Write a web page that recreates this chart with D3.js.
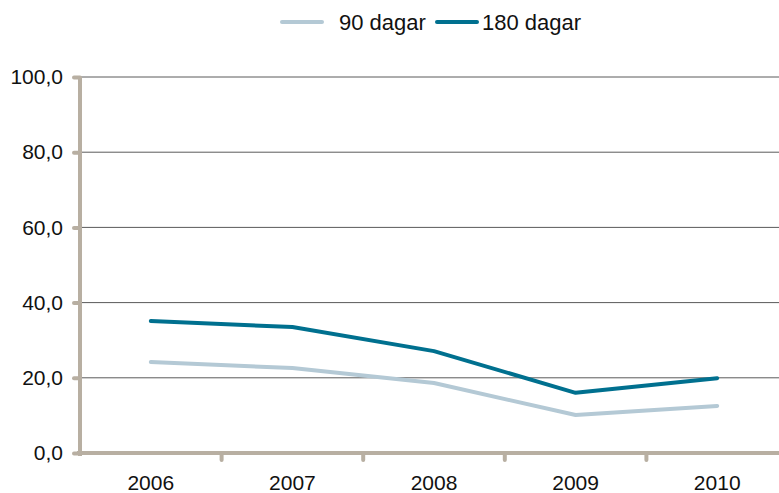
<!DOCTYPE html>
<html lang="en">
<head>
    <meta charset="UTF-8">
    <title>90 / 180 dagar</title>
    <script src="https://d3js.org/d3.v7.min.js"></script>
    <style>
        body { margin: 0; font-family: "Liberation Sans", Arial, sans-serif; background: #fff; }
        .tick text { font-size: 21px; fill: #111; }
        .legend text { font-size: 22px; fill: #111; }
    </style>
</head>
<body>
    <div id="chart"></div>
    <script>
        // Chart data
        const years = ["2006", "2007", "2008", "2009", "2010"];
        const days90 = [24.2, 22.6, 18.6, 10.1, 12.5];
        const days180 = [35.1, 33.5, 27.1, 16.0, 19.9];
        const yTicks = [0, 20, 40, 60, 80, 100];

        const W = 779, H = 493;
        const margin = { top: 77, right: -9, bottom: 40, left: 80 };

        const svg = d3.select("#chart").append("svg")
            .attr("width", W)
            .attr("height", H);

        const x = d3.scaleBand().domain(years).range([margin.left, W - margin.right]);
        const y = d3.scaleLinear().domain([0, 100]).range([H - margin.bottom, margin.top]);

        const axisColor = "#b8afa2";

        // gridlines
        svg.append("g").selectAll("line")
            .data(yTicks.slice(1))
            .enter().append("line")
            .attr("x1", margin.left).attr("x2", W)
            .attr("y1", d => y(d)).attr("y2", d => y(d))
            .attr("stroke", "#5a5a5a").attr("stroke-width", 1);

        // y axis
        const yAxis = svg.append("g")
            .attr("transform", `translate(${margin.left},0)`)
            .call(d3.axisLeft(y).tickValues(yTicks).tickSize(6).tickPadding(11)
                .tickFormat(d => d3.format(".1f")(d).replace(".", ",")));
        yAxis.select(".domain").attr("stroke", axisColor).attr("stroke-width", 4)
            .attr("d", `M0,${y(100)}V${y(0) + 3}`);
        yAxis.selectAll(".tick line").attr("stroke", axisColor).attr("stroke-width", 4).attr("stroke-linecap", "round");

        // x axis
        const xAxis = svg.append("g")
            .attr("transform", `translate(0,${y(0)})`)
            .call(d3.axisBottom(x).tickSize(0).tickPadding(30));
        xAxis.select(".domain").attr("stroke", axisColor).attr("stroke-width", 4)
            .attr("d", `M${margin.left - 3},0H${W}`);
        xAxis.selectAll(".tick text").attr("dy", "0.35em");

        // category boundary ticks
        svg.append("g").selectAll("line")
            .data(years.slice(1))
            .enter().append("line")
            .attr("x1", d => x(d)).attr("x2", d => x(d))
            .attr("y1", y(0)).attr("y2", y(0) + 7)
            .attr("stroke", axisColor).attr("stroke-width", 4).attr("stroke-linecap", "round");

        const line = d3.line()
            .x((d, i) => x(years[i]) + x.bandwidth() / 2)
            .y(d => y(d));

        const series = [
            { name: "90 dagar", values: days90, color: "#b4c9d5" },
            { name: "180 dagar", values: days180, color: "#00708f" }
        ];

        svg.append("g").selectAll("path")
            .data(series)
            .enter().append("path")
            .attr("d", d => line(d.values))
            .attr("fill", "none")
            .attr("stroke", d => d.color)
            .attr("stroke-width", 4)
            .attr("stroke-linecap", "round")
            .attr("stroke-linejoin", "round");

        // legend
        const legendPos = [{ x: 282, tx: 339 }, { x: 437, tx: 482 }];
        const legend = svg.append("g").attr("class", "legend");
        series.forEach((s, i) => {
            legend.append("line")
                .attr("x1", legendPos[i].x).attr("x2", legendPos[i].x + 40)
                .attr("y1", 22).attr("y2", 22)
                .attr("stroke", s.color).attr("stroke-width", 4)
                .attr("stroke-linecap", "round");
            legend.append("text")
                .attr("x", legendPos[i].tx).attr("y", 22)
                .attr("dy", "0.35em")
                .text(s.name);
        });
    </script>
</body>
</html>
